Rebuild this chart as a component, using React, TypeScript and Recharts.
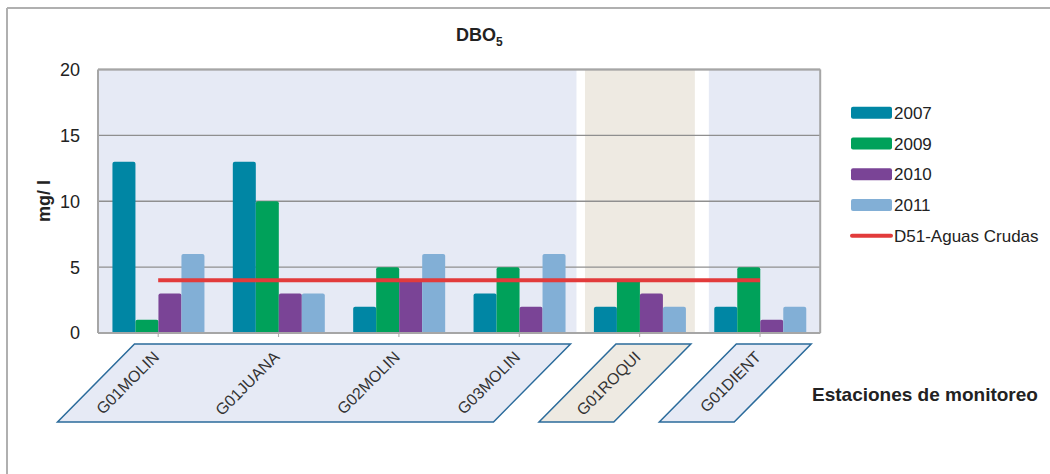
import React from 'react';
import {
  ComposedChart,
  Bar,
  Line,
  XAxis,
  YAxis,
  CartesianGrid,
  ReferenceArea,
  ReferenceLine,
} from 'recharts';

// ---- data ----
const categories = ['G01MOLIN', 'G01JUANA', 'G02MOLIN', 'G03MOLIN', 'G01ROQUI', 'G01DIENT'];
const v2007 = [13, 13, 2, 3, 2, 2];
const v2009 = [1, 10, 5, 5, 4, 5];
const v2010 = [3, 3, 4, 2, 3, 1];
const v2011 = [6, 3, 6, 6, 2, 2];
const d51 = [4, 4, 4, 4, 4, 4];
const yTicks = [0, 5, 10, 15, 20];

const barSeries = [
  { key: 'y2007', name: '2007', color: '#0086A4' },
  { key: 'y2009', name: '2009', color: '#00A15A' },
  { key: 'y2010', name: '2010', color: '#7A4496' },
  { key: 'y2011', name: '2011', color: '#82AFD6' },
];
const lineSeries = { key: 'd51', name: 'D51-Aguas Crudas', color: '#E23B3B' };

const groups = [
  { from: 'G01MOLIN', to: 'G03MOLIN', fill: '#E6EAF5', insetL: 0, insetR: 3 },
  { from: 'G01ROQUI', to: 'G01ROQUI', fill: '#EEEAE2', insetL: 5.5, insetR: 5 },
  { from: 'G01DIENT', to: 'G01DIENT', fill: '#E6EAF5', insetL: 9, insetR: 0 },
];

const data = categories.map((name, i) => ({
  name,
  y2007: v2007[i],
  y2009: v2009[i],
  y2010: v2010[i],
  y2011: v2011[i],
  d51: d51[i],
}));

const FONT = '"Liberation Sans", Arial, Helvetica, sans-serif';

const makeShape = (fill: string, insetL: number, insetR: number) => (props: any) => {
  const { x, y, width, height } = props;
  const bottom = y + height;
  const topY = bottom + 11;
  const botY = bottom + 89;
  const tl = x + 36.5;
  const tr = x + width - 9;
  const shift = 77;
  return (
    <g>
      <rect x={x + insetL} y={y} width={width - insetL - insetR} height={height} fill={fill} />
      <polygon
        points={`${tl},${topY} ${tr},${topY} ${tr - shift},${botY} ${tl - shift},${botY}`}
        fill={fill}
        stroke="#2B6B9B"
        strokeWidth={1.5}
      />
    </g>
  );
};

const XTick = (props: any) => {
  const { x, y, payload } = props;
  const ax = x + 2;
  const ay = y + 19;
  return (
    <text
      x={ax}
      y={ay}
      transform={`rotate(-45, ${ax}, ${ay})`}
      textAnchor="end"
      fontSize={16}
      fontFamily={FONT}
      fill="#333"
    >
      {payload.value}
    </text>
  );
};

export default function App() {
  const legendTop = 112.7;
  const legendStep = 30.75;
  return (
    <div style={{ position: 'fixed', left: 0, top: 0, width: 1050, height: 474, background: '#fff' }}>
      <ComposedChart
        width={1050}
        height={474}
        data={data}
        margin={{ top: 69.5, right: 229.8, bottom: 0, left: 0 }}
        barCategoryGap="12%"
        barGap={0}
      >
        {groups.map((g) => (
          <ReferenceArea
            key={g.from}
            x1={g.from}
            x2={g.to}
            zIndex={-150}
            shape={makeShape(g.fill, g.insetL, g.insetR)}
          />
        ))}
        <CartesianGrid vertical={false} stroke="#8f8f8f" strokeWidth={1.3} />
        <XAxis
          dataKey="name"
          interval={0}
          tickSize={4}
          height={141}
          axisLine={{ stroke: '#a6a6a6', strokeWidth: 2 }}
          tickLine={{ stroke: '#a6a6a6' }}
          tick={<XTick />}
        />
        <YAxis
          domain={[0, 20]}
          ticks={yTicks}
          width={98}
          tickLine={false}
          tickSize={6}
          tickMargin={12}
          axisLine={{ stroke: '#a6a6a6', strokeWidth: 2 }}
          tick={{ fontSize: 18, fill: '#222', fontFamily: FONT }}
          interval={0}
        />
        <ReferenceLine y={20} stroke="#a6a6a6" strokeWidth={2} />
        <ReferenceLine x="G01DIENT" position="end" stroke="#a6a6a6" strokeWidth={2} />
        {barSeries.map((s) => (
          <Bar
            key={s.key}
            dataKey={s.key}
            name={s.name}
            fill={s.color}
            radius={[2, 2, 0, 0]}
            isAnimationActive={false}
          />
        ))}
        <Line
          dataKey={lineSeries.key}
          name={lineSeries.name}
          stroke={lineSeries.color}
          strokeWidth={4}
          dot={false}
          activeDot={false}
          type="linear"
          isAnimationActive={false}
        />
      </ComposedChart>
      <svg
        width={1050}
        height={474}
        style={{ position: 'absolute', left: 0, top: 0, pointerEvents: 'none' }}
      >
        <line x1={7} y1={8} x2={1050} y2={8} stroke="#b0b0b0" strokeWidth={2} />
        <line x1={7} y1={8} x2={7} y2={474} stroke="#b0b0b0" strokeWidth={2} />
        <text x={456} y={41} fontFamily={FONT} fontWeight="bold" fontSize={18} fill="#222">
          DBO
          <tspan fontSize={12} dy={4.5}>5</tspan>
        </text>
        <text
          transform="translate(50, 201) rotate(-90)"
          textAnchor="middle"
          fontFamily={FONT}
          fontWeight="bold"
          fontSize={18}
          fill="#222"
        >
          mg/ l
        </text>
        <text x={812} y={401} fontFamily={FONT} fontWeight="bold" fontSize={19} fill="#222">
          Estaciones de monitoreo
        </text>
        {barSeries.map((s, i) => (
          <g key={s.key}>
            <rect x={851} y={legendTop + i * legendStep - 6} width={41} height={12} rx={2} fill={s.color} />
            <text x={894} y={legendTop + i * legendStep} dy="0.36em" fontFamily={FONT} fontSize={17} fill="#222">
              {s.name}
            </text>
          </g>
        ))}
        <line
          x1={852}
          x2={891}
          y1={legendTop + 4 * legendStep}
          y2={legendTop + 4 * legendStep}
          stroke={lineSeries.color}
          strokeWidth={4}
          strokeLinecap="round"
        />
        <text x={894} y={legendTop + 4 * legendStep} dy="0.36em" fontFamily={FONT} fontSize={17} fill="#222">
          {lineSeries.name}
        </text>
      </svg>
    </div>
  );
}
